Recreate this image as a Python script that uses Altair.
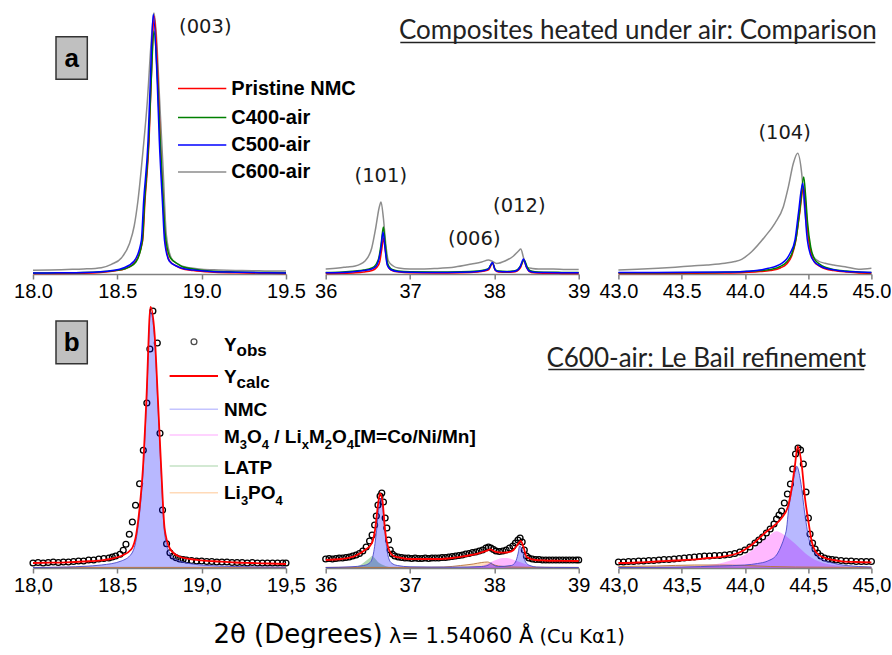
import altair as alt
import pandas as pd

# ---------------- data (intensity in arbitrary units) ----------------
# Top row, panel 1 (18.0 - 19.5)
T1_GRAY_X = [18.00, 18.10, 18.20, 18.30, 18.405, 18.465, 18.524, 18.571, 18.60, 18.622, 18.652, 18.678, 18.701, 18.717, 18.731, 18.751, 18.771, 18.79, 18.82, 18.85, 18.879, 18.94, 19.0, 19.1, 19.2, 19.3, 19.4, 19.5]
T1_GRAY_Y = [3.7, 4, 4.5, 5, 6.3, 9.7, 16, 30, 48, 73, 123, 173, 233, 261, 240, 173, 106, 40, 16, 11, 8, 6, 4.7, 4, 3.5, 3.3, 3, 3]
T1_RED_X = [18.00, 18.15, 18.30, 18.40, 18.48, 18.55, 18.61, 18.65, 18.664, 18.688, 18.701, 18.719, 18.742, 18.754, 18.771, 18.784, 18.81, 18.85, 18.88, 18.95, 19.05, 19.2, 19.35, 19.5]
T1_RED_Y = [0.5, 0.6, 0.8, 1.5, 3, 5.5, 13, 33, 73, 133, 195, 258, 190, 133, 73, 33, 13, 8, 5.5, 3.5, 2, 1.2, 0.8, 0.5]
T1_GREEN_X = [18.00, 18.15, 18.30, 18.40, 18.48, 18.55, 18.61, 18.648, 18.662, 18.686, 18.70, 18.717, 18.738, 18.752, 18.77, 18.785, 18.815, 18.86, 18.89, 18.95, 19.05, 19.2, 19.35, 19.5]
T1_GREEN_Y = [1, 1.2, 1.5, 2.2, 3.5, 5.5, 12, 33, 73, 133, 190, 243, 195, 140, 80, 38, 16, 10, 7, 5, 3, 2, 1.5, 1.2]
T1_BLUE_X = [18.00, 18.15, 18.30, 18.40, 18.47, 18.535, 18.60, 18.642, 18.656, 18.682, 18.695, 18.713, 18.737, 18.749, 18.767, 18.780, 18.808, 18.85, 18.879, 18.95, 19.05, 19.2, 19.35, 19.5]
T1_BLUE_Y = [1, 1.2, 1.5, 2.2, 3.5, 6, 13, 33, 73, 133, 190, 260, 190, 133, 73, 33, 13, 8, 6, 4, 2.5, 1.8, 1.3, 1]

# Top row, panel 2 (36 - 39)
T2_GRAY_X = [36.00, 36.15, 36.25, 36.35, 36.466, 36.546, 36.593, 36.633, 36.656, 36.684, 36.712, 36.744, 36.80, 36.862, 37.0, 37.139, 37.3, 37.534, 37.73, 37.85, 37.93, 37.969, 38.028, 38.127, 38.227, 38.286, 38.313, 38.345, 38.384, 38.45, 38.523, 38.7, 38.85, 39.0]
T2_GRAY_Y = [5, 6, 7, 8, 13, 26, 46, 66, 72, 56, 30, 13, 8, 6, 5, 5, 5.5, 7, 10, 12, 14, 13, 10.5, 13, 18, 23, 25, 16.6, 6.6, 5.5, 5, 5, 4.5, 4.5]
T2_RED_X = [36.00, 36.2, 36.35, 36.45, 36.55, 36.61, 36.64, 36.665, 36.688, 36.71, 36.733, 36.76, 36.80, 36.87, 37.0, 37.3, 37.6, 37.80, 37.88, 37.935, 37.98, 38.012, 38.05, 38.15, 38.22, 38.27, 38.31, 38.35, 38.385, 38.415, 38.47, 38.6, 38.8, 39.0]
T2_RED_Y = [0.5, 0.7, 1.2, 2, 3.5, 7, 12, 25, 36, 22, 9, 5, 3, 2, 1.2, 1, 1.2, 2, 3, 4.5, 11, 3.5, 2, 1.8, 2, 3, 6.5, 14, 6, 2.5, 1.2, 0.8, 0.6, 0.5]
T2_GREEN_X = [36.00, 36.2, 36.35, 36.45, 36.546, 36.60, 36.63, 36.66, 36.684, 36.707, 36.73, 36.755, 36.79, 36.86, 37.0, 37.3, 37.6, 37.80, 37.88, 37.93, 37.977, 38.01, 38.05, 38.15, 38.22, 38.27, 38.31, 38.352, 38.39, 38.42, 38.48, 38.6, 38.8, 39.0]
T2_GREEN_Y = [1.5, 2, 3, 4, 6, 10, 16, 32, 47, 30, 12, 7, 4.5, 3, 2.2, 2, 2.2, 3, 4, 5.5, 11, 4.5, 3, 2.5, 3, 4, 8, 14, 7, 3.5, 2.2, 1.8, 1.6, 1.5]
T2_BLUE_X = [36.00, 36.2, 36.35, 36.45, 36.546, 36.60, 36.625, 36.656, 36.68, 36.703, 36.727, 36.75, 36.783, 36.85, 37.0, 37.3, 37.6, 37.80, 37.88, 37.93, 37.977, 38.009, 38.05, 38.15, 38.22, 38.266, 38.305, 38.345, 38.38, 38.41, 38.47, 38.6, 38.8, 39.0]
T2_BLUE_Y = [1.2, 1.5, 2.5, 3.5, 5, 8, 13, 26, 42, 26, 10, 6, 4, 2.5, 1.8, 1.5, 1.8, 2.5, 3.5, 5, 11.6, 4, 2.5, 2.2, 2.5, 3.5, 7, 15, 7, 3, 1.8, 1.5, 1.3, 1.2]

# Top row, panel 3 (43.0 - 45.0)
T3_GRAY_X = [43.0, 43.15, 43.314, 43.45, 43.578, 43.70, 43.842, 43.92, 43.974, 44.053, 44.158, 44.237, 44.304, 44.344, 44.383, 44.417, 44.449, 44.475, 44.502, 44.542, 44.58, 44.634, 44.70, 44.792, 44.898, 45.0]
T3_GRAY_Y = [4, 4.7, 5.7, 6.8, 8, 9, 10.7, 12.5, 14.7, 22.3, 37.3, 50.7, 67.3, 87.3, 110.7, 120.7, 100.7, 60.7, 34, 17.3, 13, 10.7, 9, 7.3, 4.7, 5.7]
T3_RED_X = [43.0, 43.3, 43.6, 43.842, 44.0, 44.1, 44.2, 44.28, 44.33, 44.37, 44.40, 44.43, 44.465, 44.48, 44.495, 44.52, 44.55, 44.59, 44.64, 44.70, 44.80, 44.90, 45.0]
T3_RED_Y = [0.5, 0.6, 0.8, 1, 1.5, 2.2, 3.5, 6, 10, 18, 32, 58, 87, 70, 45, 22, 12, 8, 5, 3.5, 2, 1, 0.8]
T3_GREEN_X = [43.0, 43.3, 43.6, 43.842, 44.0, 44.1, 44.2, 44.28, 44.33, 44.37, 44.405, 44.435, 44.465, 44.48, 44.495, 44.52, 44.55, 44.59, 44.64, 44.70, 44.80, 44.90, 45.0]
T3_GREEN_Y = [1.2, 1.3, 1.5, 1.8, 2.5, 3.2, 4.5, 7.5, 12, 20, 36, 65, 97, 78, 52, 27, 15, 10, 6.5, 4.5, 3, 2, 1.5]
T3_BLUE_X = [43.0, 43.3, 43.6, 43.842, 44.0, 44.053, 44.12, 44.185, 44.25, 44.291, 44.33, 44.357, 44.396, 44.423, 44.457, 44.475, 44.488, 44.515, 44.55, 44.581, 44.63, 44.686, 44.80, 44.90, 45.0]
T3_BLUE_Y = [1.5, 1.6, 1.8, 2, 2.6, 3, 4, 5.7, 8, 10.7, 15, 20.7, 34, 60.7, 90.7, 65, 40.7, 20.7, 12, 9, 6, 4.5, 2.5, 2, 1.5]

# Bottom row, panel 1 (18.0 - 19.5): Le Bail refinement of C600-air
B1_OBS_X = [18.00, 18.03, 18.06, 18.09, 18.12, 18.15, 18.18, 18.21, 18.24, 18.27, 18.30, 18.33, 18.36, 18.39, 18.42, 18.45, 18.47, 18.49,
            18.516, 18.535, 18.551, 18.571, 18.589, 18.608, 18.632, 18.654, 18.675, 18.693, 18.711, 18.737, 18.753, 18.768, 18.792, 18.812, 18.830, 18.849,
            18.87, 18.89, 18.91, 18.94, 18.97, 19.00, 19.03, 19.06, 19.09, 19.12, 19.15, 19.18, 19.21, 19.24, 19.27, 19.30, 19.33, 19.36, 19.39, 19.42, 19.45, 19.48, 19.50]
B1_OBS_Y = [5, 5.5, 5, 5.5, 6, 5.5, 6, 6, 6.5, 7, 7, 8, 8, 9, 9.5, 10, 11, 12,
            13.7, 17.7, 23.7, 33.7, 46, 62.7, 84.3, 117.7, 165, 219, 257, 225, 134.7, 58, 24.3, 15.3, 12, 10.3,
            9, 8.5, 8, 7.5, 7, 7, 6.5, 6.5, 6, 6, 6, 5.5, 5.5, 5.5, 5, 5.5, 5, 5, 5, 5, 5, 5, 5]
B1_CALC_X = [18.0, 18.1, 18.2, 18.3, 18.405, 18.47, 18.523, 18.583, 18.612, 18.632, 18.652, 18.672, 18.697, 18.721, 18.741, 18.760, 18.780, 18.81, 18.859, 18.93, 18.998, 19.1, 19.2, 19.3, 19.4, 19.5]
B1_CALC_Y = [5, 5.3, 5.7, 6.5, 7.7, 9.5, 12, 18.7, 33.7, 60, 100, 167, 261, 233.7, 167, 100, 40, 20, 12, 9, 7.7, 6.5, 5.5, 5, 4.5, 4]
B1_NMC_X = [18.0, 18.2, 18.405, 18.523, 18.583, 18.612, 18.632, 18.652, 18.672, 18.697, 18.721, 18.741, 18.760, 18.780, 18.81, 18.859, 18.998, 19.2, 19.5]
B1_NMC_Y = [0.5, 1, 3, 7, 14, 29, 55, 95, 162, 256, 229, 162, 95, 35, 15, 7.5, 3, 1.5, 0.8]
B1_LI3PO4_X = [18.0, 19.5]
B1_LI3PO4_Y = [0.6, 0.6]

# Bottom row, panel 2 (36 - 39)
B2_OBS_X = [36.00, 36.04, 36.08, 36.12, 36.16, 36.20, 36.24, 36.28, 36.32, 36.36, 36.40, 36.44, 36.48, 36.52, 36.55, 36.58, 36.60, 36.62, 36.645, 36.665,
            36.685, 36.705, 36.725, 36.745, 36.765, 36.79, 36.82, 36.86, 36.90, 36.94, 36.98, 37.02, 37.06, 37.10, 37.14, 37.18, 37.22, 37.26, 37.30, 37.34,
            37.38, 37.42, 37.46, 37.50, 37.54, 37.58, 37.62, 37.66, 37.70, 37.74, 37.78, 37.82, 37.86, 37.90, 37.93, 37.96, 37.99, 38.02, 38.06, 38.10,
            38.14, 38.18, 38.22, 38.25, 38.28, 38.305, 38.33, 38.355, 38.38, 38.41, 38.45, 38.49, 38.53, 38.57, 38.61, 38.65, 38.69, 38.73, 38.77, 38.81,
            38.85, 38.89, 38.93, 38.97, 39.00]
B2_OBS_Y = [9, 9.5, 9, 9.5, 10, 10, 10.5, 11, 12, 13, 14.5, 17, 21, 27, 33, 43, 52, 63, 72, 75,
            66, 50, 40, 28, 18, 14, 12, 11, 10.5, 10, 10, 9.5, 10, 9.5, 9.5, 10, 9.5, 10, 10, 10,
            10.5, 10.5, 11, 11.5, 12, 12.5, 13, 14, 14.5, 15.5, 16, 17, 18, 20, 21, 20, 18.5, 17, 16.5, 17,
            18, 20, 22, 25, 28, 30, 26, 18, 12, 10, 9, 8.5, 8.5, 8, 8, 8, 8, 8, 8, 8,
            8, 8, 8, 8, 8]
B2_CALC_X = [36.0, 36.19, 36.348, 36.466, 36.546, 36.585, 36.617, 36.644, 36.672, 36.704, 36.744, 36.803, 36.9, 36.981, 37.15, 37.337, 37.5, 37.613, 37.72, 37.811,
             37.91, 37.949, 38.008, 38.06, 38.108, 38.17, 38.227, 38.286, 38.313, 38.345, 38.384, 38.483, 38.6, 38.8, 39.0]
B2_CALC_Y = [8, 9, 12, 18, 24.7, 38, 61, 74.7, 68, 38, 19.7, 12, 10, 9, 9, 9, 10, 11.3, 13, 14.7,
             17.3, 18.7, 16.3, 15.5, 15.3, 15.8, 18, 24.7, 27, 21, 11, 8, 7.5, 7.2, 7]
B2_NMC_X = [36.0, 36.3, 36.45, 36.52, 36.56, 36.6, 36.63, 36.655, 36.68, 36.71, 36.74, 36.78, 36.85, 37.0, 37.5, 37.85, 37.93, 37.96, 37.99, 38.05, 38.2, 38.25, 38.28, 38.30, 38.33, 38.37, 38.42, 38.5, 38.7, 39.0]
B2_NMC_Y = [0.5, 1.2, 2.5, 5, 12, 35, 60, 70, 58, 30, 12, 5, 2.5, 1.2, 0.8, 1.5, 3, 5, 3, 1.5, 2.5, 6, 14, 22, 18, 6, 2.5, 1, 0.6, 0.5]
B2_M3O4_X = [36.0, 37.6, 37.8, 37.9, 37.95, 38.0, 38.05, 38.1, 38.15, 38.2, 38.25, 38.3, 38.35, 38.4, 38.45, 38.55, 39.0]
B2_M3O4_Y = [0, 0.3, 1.5, 3.5, 5.5, 7.5, 9, 10, 10, 9, 7.5, 6, 4.5, 3, 1.5, 0.5, 0]
B2_LATP_X = [36.0, 36.3, 36.4, 36.46, 36.52, 36.55, 36.58, 36.62, 36.68, 36.75, 36.9, 39.0]
B2_LATP_Y = [0, 0.5, 2.5, 6, 10, 12, 10, 6, 3, 1, 0.2, 0]
B2_LI3PO4_X = [36.0, 37.0, 37.4, 37.6, 37.75, 37.85, 37.92, 37.97, 38.05, 38.2, 38.4, 39.0]
B2_LI3PO4_Y = [0.6, 0.6, 1, 2.5, 4, 5.5, 6, 4, 2, 1, 0.7, 0.6]

# Bottom row, panel 3 (43.0 - 45.0)
B3_OBS_X = [43.00, 43.04, 43.08, 43.12, 43.16, 43.20, 43.24, 43.28, 43.32, 43.36, 43.40, 43.44, 43.48, 43.52, 43.56, 43.60, 43.64, 43.68, 43.72, 43.76,
            43.80, 43.84, 43.88, 43.92, 43.96, 44.00, 44.04, 44.08, 44.11, 44.14, 44.17, 44.20, 44.23, 44.25, 44.27, 44.29, 44.312, 44.336, 44.36, 44.378,
            44.40, 44.42, 44.44, 44.462, 44.483, 44.502, 44.515, 44.535, 44.555, 44.575, 44.60, 44.63, 44.66, 44.69, 44.72, 44.76, 44.80, 44.84, 44.88, 44.92,
            44.96, 45.00]
B3_OBS_Y = [6, 6, 6.5, 6.5, 7, 7, 7.5, 7.5, 8, 8.5, 8.5, 9, 9.5, 10, 10.5, 11, 11.5, 12, 12, 12.5,
            12.5, 13, 13.5, 14.5, 16, 18, 21, 25, 28, 31, 35, 39, 44, 49, 53, 57, 65, 74, 84, 99,
            114, 120, 118, 104, 76, 50, 34, 25, 19, 15, 12, 10, 9, 8.5, 8, 7.5, 7, 7, 6.5, 6.5,
            6.5, 6.5]
B3_CALC_X = [43.0, 43.15, 43.3, 43.45, 43.578, 43.71, 43.842, 43.948, 44.053, 44.158, 44.237, 44.29, 44.344, 44.37, 44.396, 44.417, 44.449, 44.475, 44.502, 44.528, 44.568, 44.634, 44.70, 44.766, 44.88, 45.0]
B3_CALC_Y = [5, 5.5, 6.5, 7.5, 8.3, 10, 11.7, 15, 23, 35, 43, 50, 63, 80, 103, 121.7, 103, 70, 46.7, 26.7, 15, 10, 8, 6.7, 6, 5.7]
B3_NMC_X = [43.0, 43.5, 43.8, 44.0, 44.1, 44.18, 44.25, 44.29, 44.31, 44.33, 44.344, 44.37, 44.39, 44.41, 44.44, 44.475, 44.51, 44.57, 44.62, 44.69, 44.8, 45.0]
B3_NMC_Y = [0.5, 1, 2, 3, 4.5, 7, 13, 23, 30, 40, 57, 77, 92, 101.7, 87, 53, 27, 13, 8, 5, 2.5, 1]
B3_M3O4_X = [43.0, 43.4, 43.6, 43.71, 43.84, 43.974, 44.05, 44.106, 44.18, 44.25, 44.30, 44.344, 44.40, 44.45, 44.5, 44.554, 44.62, 44.686, 44.8, 45.0]
B3_M3O4_Y = [0.5, 1, 1.8, 3, 5.7, 11.7, 17, 23, 31, 36.7, 34, 30, 24, 18, 12.5, 8.3, 5, 3.3, 1.5, 0.8]
B3_LI3PO4_X = [43.0, 43.3, 43.6, 43.8, 44.0, 44.2, 44.4, 45.0]
B3_LI3PO4_Y = [1.5, 2, 3, 3, 2.5, 1.5, 1, 0.6]

# axes
X_DOMAINS = [[18.0, 19.5], [36, 39], [43.0, 45.0]]
X_TICKS = [[18.0, 18.5, 19.0, 19.5], [36, 37, 38, 39], [43.0, 43.5, 44.0, 44.5, 45.0]]
Y_MAX = 263

# texts
SAMPLES = ["Pristine NMC", "C400-air", "C500-air", "C600-air"]
SAMPLE_COLORS = ["#ff0000", "#008000", "#0000ff", "#8c8c8c"]
PEAKS = ["(003)", "(101)", "(006)", "(012)", "(104)"]
TITLE_TOP = "Composites heated under air: Comparison"
TITLE_BOTTOM = "C600-air: Le Bail refinement"
PANEL_LETTERS = ["a", "b"]
X_TITLE = ["2θ (Degrees)", "λ= 1.54060 Å", "(Cu Kα1)"]

W, H = 253, 263
ARIAL = "Liberation Sans"


def make_df(xs, ys):
    return pd.DataFrame({"x": xs, "y": ys})


def xenc(col, row):
    if col == 1:
        expr = "format(datum.value, 'd')"
    elif row == 0:
        expr = "format(datum.value, '.1f')"
    else:
        expr = "replace(format(datum.value, '.1f'), '.', ',')"
    return alt.X("x:Q", scale=alt.Scale(domain=X_DOMAINS[col], nice=False, zero=False),
                 axis=alt.Axis(values=X_TICKS[col], labelExpr=expr, title=None, grid=False))


def yenc():
    return alt.Y("y:Q", scale=alt.Scale(domain=[0, Y_MAX], nice=False), axis=None)


def one():
    return pd.DataFrame({"t": [""]})


def txt(s, x, y, size, font=ARIAL, weight="normal", align="left", baseline="middle", color="#000000"):
    return alt.Chart(pd.DataFrame({"t": [s]})).mark_text(
        font=font, fontSize=size, fontWeight=weight, align=align, baseline=baseline, color=color
    ).encode(text="t:N", x=alt.value(x), y=alt.value(y))


def hline(x1, x2, y, color, width):
    return alt.Chart(one()).mark_rule(color=color, strokeWidth=width).encode(
        x=alt.value(x1), x2=alt.value(x2), y=alt.value(y))


def box(x1, x2, y1, y2):
    return alt.Chart(one()).mark_rect(fill="#c0c0c0", stroke="#333333", strokeWidth=1.5).encode(
        x=alt.value(x1), x2=alt.value(x2), y=alt.value(y1), y2=alt.value(y2))


def curve(xs, ys, col, row, color, width=1.5):
    return alt.Chart(make_df(xs, ys)).mark_line(color=color, strokeWidth=width, interpolate="monotone").encode(
        x=xenc(col, row), y=yenc())


def fill(xs, ys, col, color, opacity=0.28):
    return alt.Chart(make_df(xs, ys)).mark_area(color=color, opacity=opacity, interpolate="monotone").encode(
        x=xenc(col, 1), y=yenc())


def obs(xs, ys, col):
    return alt.Chart(make_df(xs, ys)).mark_point(shape="circle", filled=False, color="#000000",
                                                 size=34, strokeWidth=1.3, opacity=1).encode(
        x=xenc(col, 1), y=yenc())


# ---------------- top row ----------------
anchor = alt.Chart(one()).mark_point(size=1, opacity=0, fillOpacity=0, strokeOpacity=0).encode(
    x=alt.value(-31.7), y=alt.value(-10))

top_curves = [
    [(T1_GRAY_X, T1_GRAY_Y), (T1_RED_X, T1_RED_Y), (T1_GREEN_X, T1_GREEN_Y), (T1_BLUE_X, T1_BLUE_Y)],
    [(T2_GRAY_X, T2_GRAY_Y), (T2_RED_X, T2_RED_Y), (T2_GREEN_X, T2_GREEN_Y), (T2_BLUE_X, T2_BLUE_Y)],
    [(T3_GRAY_X, T3_GRAY_Y), (T3_RED_X, T3_RED_Y), (T3_GREEN_X, T3_GREEN_Y), (T3_BLUE_X, T3_BLUE_Y)],
]
draw_colors = [SAMPLE_COLORS[3], SAMPLE_COLORS[0], SAMPLE_COLORS[1], SAMPLE_COLORS[2]]


def top_panel(col, extras):
    layers = [curve(xs, ys, col, 0, c) for (xs, ys), c in zip(top_curves[col], draw_colors)]
    return alt.layer(*layers, *extras).properties(width=W, height=H)


PK = 19.5
legend_rows = [77.5, 106.5, 134, 161]
p1_extra = [anchor, box(23, 54.3, 25.7, 68.3),
            txt(PANEL_LETTERS[0], 38.7, 47.5, 26, weight="bold", align="center"),
            txt(PEAKS[0], 172.3, 15.5, PK, font="DejaVu Sans", align="center", color="#1a1a1a")]
for name, color, yy in zip(SAMPLES, SAMPLE_COLORS, legend_rows):
    p1_extra.append(hline(145, 193.3, yy, color, 1.5))
    p1_extra.append(txt(name, 198.3, yy, 20, weight="bold"))

p2_extra = [txt(PEAKS[1], 55.1, 165, PK, font="DejaVu Sans", align="center", color="#1a1a1a"),
            txt(PEAKS[2], 148.6, 228, PK, font="DejaVu Sans", align="center", color="#1a1a1a"),
            txt(PEAKS[3], 193.6, 195, PK, font="DejaVu Sans", align="center", color="#1a1a1a")]

p3_extra = [txt(TITLE_TOP, 19.4, 20, 26, font="Lato", align="center", color="#222222"),
            hline(-218.1, 256.9, 31.5, "#222222", 1.5),
            txt(PEAKS[4], 166.2, 121.7, PK, font="DejaVu Sans", align="center", color="#1a1a1a")]

P1 = top_panel(0, p1_extra)
P2 = top_panel(1, p2_extra)
P3 = top_panel(2, p3_extra)

# ---------------- bottom row ----------------
NMC_C, M3O4_C, LATP_C, LI3PO4_C = "#0000ff", "#ff00ff", "#008000", "#ff9933"


def bottom_panel(col, obs_xy, calc_xy, fills, extras):
    layers = [obs(obs_xy[0], obs_xy[1], col)]
    for (xs, ys), c, op in fills:
        layers.append(fill(xs, ys, col, c, op))
    edge = [f for f in fills if f[1] in (NMC_C, LI3PO4_C)]
    for (xs, ys), c, op in edge:
        ec = "#4848c8" if c == NMC_C else "#b8733a"
        layers.append(curve(xs, ys, col, 1, ec, 0.9))
    layers.append(curve(calc_xy[0], calc_xy[1], col, 1, "#ff0000", 1.8))
    return alt.layer(*layers, *extras).properties(width=W, height=H)


# legend (panel b)
leg = [box(23, 54.3, 16, 58.7),
       txt(PANEL_LETTERS[1], 38.7, 37.5, 26, weight="bold", align="center"),
       alt.Chart(one()).mark_point(shape="circle", filled=False, color="#000000", size=34, strokeWidth=1.3).encode(
           x=alt.value(161), y=alt.value(36.7)),
       txt("Y", 191, 46, 19, weight="bold", baseline="alphabetic"),
       txt("obs", 203.5, 51, 17, weight="bold", baseline="alphabetic"),
       hline(136.6, 185, 71, "#ff0000", 1.8),
       txt("Y", 191, 77.7, 19, weight="bold", baseline="alphabetic"),
       txt("calc", 203.5, 82.7, 17, weight="bold", baseline="alphabetic"),
       hline(136.6, 185, 104.3, "#c4c4ff", 1.5),
       txt("NMC", 191, 111, 19, weight="bold", baseline="alphabetic"),
       hline(136.6, 185, 130, "#ffc4ff", 1.5),
       hline(136.6, 185, 161, "#c4e2c4", 1.5),
       txt("LATP", 191, 169.3, 19, weight="bold", baseline="alphabetic"),
       hline(136.6, 185, 187.7, "#ffdab8", 1.5)]
# M3O4 / LixM2O4[M=Co/Ni/Mn] with subscripts
M_PIECES = [("M", 191, 0), ("3", 206.8, 1), ("O", 214, 0), ("4", 228.8, 1), ("/ Li", 241.3, 0), ("x", 268.7, 1),
            ("M", 275.9, 0), ("2", 291.7, 1), ("O", 298.9, 0), ("4", 313.7, 1), ("[M=Co/Ni/Mn]", 320.9, 0)]
for s, xx, sub in M_PIECES:
    leg.append(txt(s, xx, 137.7 + (6 if sub else 0), 13 if sub else 19, weight="bold", baseline="alphabetic"))
L_PIECES = [("Li", 191, 0), ("3", 207.9, 1), ("PO", 215.1, 0), ("4", 242.6, 1)]
for s, xx, sub in L_PIECES:
    leg.append(txt(s, xx, 194.3 + (6 if sub else 0), 13 if sub else 19, weight="bold", baseline="alphabetic"))

P4 = bottom_panel(0, (B1_OBS_X, B1_OBS_Y), (B1_CALC_X, B1_CALC_Y),
                  [((B1_LI3PO4_X, B1_LI3PO4_Y), LI3PO4_C, 0.3), ((B1_NMC_X, B1_NMC_Y), NMC_C, 0.28)], leg)

p5_extra = [txt(X_TITLE[0], -27.7, 330, 26, font="DejaVu Sans", align="center"),
            txt(X_TITLE[1], 135.5, 331.5, 21, font="DejaVu Sans", align="center"),
            txt(X_TITLE[2], 256.5, 331.5, 19.5, font="DejaVu Sans", align="center")]
P5 = bottom_panel(1, (B2_OBS_X, B2_OBS_Y), (B2_CALC_X, B2_CALC_Y),
                  [((B2_LI3PO4_X, B2_LI3PO4_Y), LI3PO4_C, 0.3), ((B2_LATP_X, B2_LATP_Y), LATP_C, 0.3),
                   ((B2_M3O4_X, B2_M3O4_Y), M3O4_C, 0.28), ((B2_NMC_X, B2_NMC_Y), NMC_C, 0.28)], p5_extra)

p6_extra = [txt(TITLE_BOTTOM, 87.9, 53.5, 26, font="Lato", align="center", color="#222222"),
            hline(-70.1, 245.9, 64.5, "#222222", 1.5)]
P6 = bottom_panel(2, (B3_OBS_X, B3_OBS_Y), (B3_CALC_X, B3_CALC_Y),
                  [((B3_LI3PO4_X, B3_LI3PO4_Y), LI3PO4_C, 0.3),
                   ((B3_M3O4_X, B3_M3O4_Y), M3O4_C, 0.28), ((B3_NMC_X, B3_NMC_Y), NMC_C, 0.28)], p6_extra)

chart = alt.concat(P1, P2, P3, P4, P5, P6, columns=3, spacing={"row": 31, "column": 39.7}, bounds="flush").properties(
    padding={"left": 0, "top": 0, "right": 0, "bottom": 0}, background="white"
).configure_axis(
    domainColor="#808080", domainWidth=1.5, tickColor="#808080", tickWidth=1.5, tickSize=5,
    labelFont=ARIAL, labelFontSize=20, labelColor="#000000", labelPadding=2,
    labelOverlap=False, labelFlush=False, grid=False
).configure_view(strokeWidth=0)

chart.save("out.html", embed_options={"renderer": "svg", "actions": False})
